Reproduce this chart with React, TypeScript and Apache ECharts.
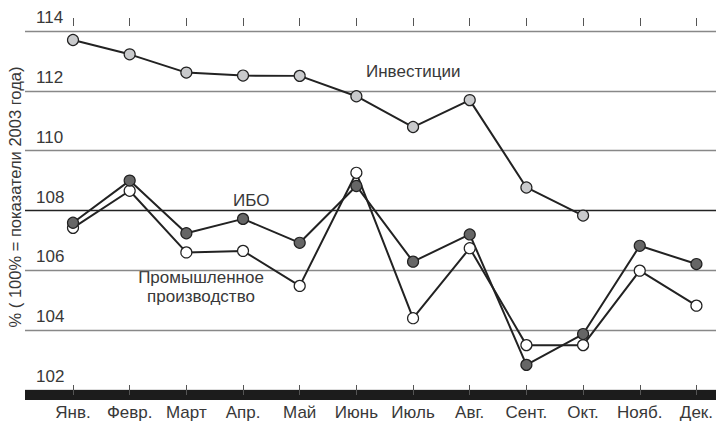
import React, { useEffect, useRef } from "react";
import * as echarts from "echarts";

const months = ["Янв.", "Февр.", "Март", "Апр.", "Май", "Июнь", "Июль", "Авг.", "Сент.", "Окт.", "Нояб.", "Дек."];
const investments = [113.7, 113.22, 112.61, 112.51, 112.5, 111.82, 110.79, 111.69, 108.77, 107.83, null, null];
const ibo = [107.59, 109.0, 107.24, 107.72, 106.92, 108.82, 106.29, 107.2, 102.84, 103.87, 106.82, 106.21];
const industry = [107.42, 108.66, 106.6, 106.65, 105.48, 109.26, 104.4, 106.74, 103.5, 103.5, 105.99, 104.82];
const yMin = 102;
const yMax = 114;
const yStep = 2;

const FONT = "'Liberation Sans', Arial, sans-serif";
const TXT = "#383838";

export default function App() {
  const ref = useRef<HTMLDivElement>(null);
  useEffect(() => {
    if (!ref.current) return;
    const chart = echarts.init(ref.current, null, { renderer: "svg" });
    const lineSeries = (name: string, data: (number | null)[], fill: string) => ({
      name,
      type: "line",
      xAxisIndex: 1,
      yAxisIndex: 1,
      data,
      symbol: "circle",
      symbolSize: 11,
      connectNulls: false,
      lineStyle: { color: "#222", width: 2 },
      itemStyle: { color: fill, borderColor: "#222", borderWidth: 1.2 },
      z: 5,
    });
    chart.setOption({
      animation: false,
      backgroundColor: "#fff",
      textStyle: { fontFamily: FONT },
      grid: [
        { left: 25, right: 0, top: 31, bottom: 32 },
        { left: 73, right: 17, top: 31, bottom: 32 },
      ],
      xAxis: [
        {
          type: "value",
          gridIndex: 0,
          min: 0,
          max: 1,
          offset: 5,
          axisLine: { show: true, lineStyle: { color: "#1c1c1c", width: 10, cap: "butt" } },
          axisTick: { show: false },
          axisLabel: { show: false },
          splitLine: { show: false },
        },
        {
          type: "category",
          gridIndex: 1,
          data: months,
          boundaryGap: false,
          offset: 5,
          axisLine: { show: false },
          axisTick: { show: true, inside: true, length: 10, lineStyle: { color: "#555", width: 1 } },
          axisLabel: { interval: 0, margin: 9, fontSize: 17, color: TXT, fontFamily: FONT },
          splitLine: { show: false },
        },
        {
          type: "category",
          gridIndex: 1,
          data: months,
          boundaryGap: false,
          offset: 5,
          axisLine: { show: false },
          axisTick: { show: true, inside: false, length: 8, lineStyle: { color: "#555", width: 1 } },
          axisLabel: { show: false },
          splitLine: { show: false },
        },
      ],
      yAxis: [
        {
          type: "value",
          gridIndex: 0,
          min: yMin,
          max: yMax,
          interval: yStep,
          axisLine: { show: false },
          axisTick: { show: false },
          axisLabel: {
            inside: true,
            margin: 11,
            verticalAlign: "bottom",
            padding: [0, 0, 5, 0],
            fontSize: 17,
            color: TXT,
            fontFamily: FONT,
            showMinLabel: true,
            showMaxLabel: true,
          },
          splitLine: {
            show: true,
            lineStyle: {
              color: ["#777", "#888", "#888", "#222", "#888", "#888", "#888"],
              width: 1.3,
            },
          },
        },
        {
          type: "value",
          gridIndex: 1,
          min: yMin,
          max: yMax,
          interval: yStep,
          show: false,
          splitLine: { show: false },
        },
      ],
      series: [
        lineSeries("Инвестиции", investments, "#c9cacc"),
        lineSeries("Промышленное производство", industry, "#ffffff"),
        lineSeries("ИБО", ibo, "#666666"),
      ],
      graphic: [
        {
          type: "text",
          left: 366,
          top: 63,
          style: { text: "Инвестиции", fontSize: 17, fill: TXT, fontFamily: FONT },
        },
        {
          type: "text",
          left: 233,
          top: 192,
          style: { text: "ИБО", fontSize: 17, fill: TXT, fontFamily: FONT },
        },
        {
          type: "text",
          x: 201,
          y: 268,
          style: {
            text: "Промышленное\nпроизводство",
            fontSize: 17,
            lineHeight: 19,
            align: "center",
            fill: TXT,
            fontFamily: FONT,
          },
        },
        {
          type: "text",
          x: 15,
          y: 197,
          rotation: Math.PI / 2,
          style: {
            text: "% ( 100% = показатели 2003 года)",
            fontSize: 16.5,
            align: "center",
            verticalAlign: "middle",
            fill: TXT,
            fontFamily: FONT,
          },
        },
      ],
    });
    return () => chart.dispose();
  }, []);
  return (
    <div
      ref={ref}
      style={{ position: "fixed", left: 0, top: 0, width: 716, height: 422, background: "#fff" }}
    />
  );
}
